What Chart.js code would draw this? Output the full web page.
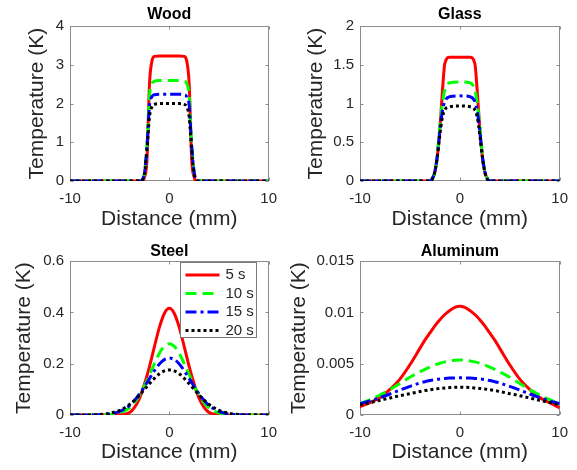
<!DOCTYPE html>
<html>
<head>
<meta charset="utf-8">
<script src="https://cdn.jsdelivr.net/npm/chart.js@4.4.1/dist/chart.umd.min.js"></script>
<style>
  body { margin: 0; background: #fff; }
  #wrap { position: relative; width: 577px; height: 470px; }
  canvas { position: absolute; }
</style>
</head>
<body>
<div id="wrap">
  <canvas id="wood" width="286" height="235" style="left:0;top:0"></canvas>
  <canvas id="glass" width="291" height="235" style="left:286px;top:0"></canvas>
  <canvas id="steel" width="286" height="235" style="left:0;top:235px"></canvas>
  <canvas id="aluminum" width="291" height="235" style="left:286px;top:235px"></canvas>
</div>
<script>
// series (time after heating)
var seriesLabels = ['5 s', '10 s', '15 s', '20 s'];
var seriesColors = ['#ff0000', '#00ff00', '#0000ff', '#000000'];
var seriesDashes = [[], [11, 6], [11, 4, 3, 4], [3, 3]];

// x positions (mm)
var plateauX = [-10, -6, -3, -2.75, -2.5, -2.25, -2, -1.75, -1.5, -1, 0, 1, 1.5, 1.75, 2, 2.25, 2.5, 2.75, 3, 6, 10];
var bellX = [-10, -9, -8, -7, -6, -5, -4, -3.5, -3, -2.5, -2, -1.5, -1, -0.5, 0, 0.5, 1, 1.5, 2, 2.5, 3, 3.5, 4, 5, 6, 7, 8, 9, 10];
var xTicks = [-10, 0, 10];
var xTickLabels = ['-10', '0', '10'];

// Wood (K)
var wood5 = [0, 0, 0, 0, 0.1, 0.55, 2.5, 3.1, 3.22, 3.23, 3.23, 3.23, 3.22, 3.1, 2.5, 0.55, 0.1, 0, 0, 0, 0];
var wood10 = [0, 0, 0, 0.02, 0.2, 0.95, 2.2, 2.52, 2.58, 2.6, 2.6, 2.6, 2.58, 2.52, 2.2, 0.95, 0.2, 0.02, 0, 0, 0];
var wood15 = [0, 0, 0, 0.02, 0.22, 0.9, 1.95, 2.18, 2.23, 2.24, 2.24, 2.24, 2.23, 2.18, 1.95, 0.9, 0.22, 0.02, 0, 0, 0];
var wood20 = [0, 0, 0, 0.02, 0.2, 0.8, 1.65, 1.92, 1.98, 2.0, 2.0, 2.0, 1.98, 1.92, 1.65, 0.8, 0.2, 0.02, 0, 0, 0];
var woodTicks = [0, 1, 2, 3, 4];
var woodTickLabels = ['0', '1', '2', '3', '4'];

// Glass (K)
var glass5 = [0, 0, 0, 0.03, 0.12, 0.32, 0.67, 1.15, 1.52, 1.6, 1.6, 1.6, 1.52, 1.15, 0.67, 0.32, 0.12, 0.03, 0, 0, 0];
var glass10 = [0, 0, 0, 0.03, 0.12, 0.35, 0.72, 1.0, 1.18, 1.27, 1.28, 1.27, 1.18, 1.0, 0.72, 0.35, 0.12, 0.03, 0, 0, 0];
var glass15 = [0, 0, 0, 0.03, 0.12, 0.33, 0.65, 0.9, 1.03, 1.09, 1.1, 1.09, 1.03, 0.9, 0.65, 0.33, 0.12, 0.03, 0, 0, 0];
var glass20 = [0, 0, 0, 0.03, 0.12, 0.32, 0.6, 0.82, 0.92, 0.96, 0.97, 0.96, 0.92, 0.82, 0.6, 0.32, 0.12, 0.03, 0, 0, 0];
var glassTicks = [0, 0.5, 1, 1.5, 2];
var glassTickLabels = ['0', '0.5', '1', '1.5', '2'];

// Steel (K)
var steel5 = [0, 0, 0, 0, 0, 0.001, 0.01, 0.03, 0.065, 0.121, 0.189, 0.267, 0.342, 0.396, 0.416, 0.396, 0.342, 0.267, 0.189, 0.121, 0.065, 0.03, 0.01, 0.001, 0, 0, 0, 0, 0];
var steel10 = [0, 0, 0, 0, 0.002, 0.008, 0.028, 0.048, 0.077, 0.114, 0.157, 0.2, 0.241, 0.268, 0.278, 0.268, 0.241, 0.2, 0.157, 0.114, 0.077, 0.048, 0.028, 0.008, 0.002, 0, 0, 0, 0];
var steel15 = [0, 0, 0, 0.001, 0.004, 0.014, 0.037, 0.057, 0.082, 0.111, 0.142, 0.173, 0.199, 0.216, 0.222, 0.216, 0.199, 0.173, 0.142, 0.111, 0.082, 0.057, 0.037, 0.014, 0.004, 0.001, 0, 0, 0];
var steel20 = [0, 0, 0, 0.002, 0.007, 0.018, 0.041, 0.058, 0.078, 0.1, 0.122, 0.143, 0.161, 0.172, 0.176, 0.172, 0.161, 0.143, 0.122, 0.1, 0.078, 0.058, 0.041, 0.018, 0.007, 0.002, 0, 0, 0];
var steelTicks = [0, 0.2, 0.4, 0.6];
var steelTickLabels = ['0', '0.2', '0.4', '0.6'];

// Aluminum (K)
var alu5 = [0.0008, 0.0012, 0.0017, 0.0025, 0.0035, 0.0049, 0.0065, 0.0073, 0.008, 0.0087, 0.0093, 0.0098, 0.0102, 0.0105, 0.0106, 0.0105, 0.0102, 0.0098, 0.0093, 0.0087, 0.008, 0.0073, 0.0065, 0.0049, 0.0035, 0.0025, 0.0017, 0.0012, 0.0007];
var alu10 = [0.0011, 0.0015, 0.00195, 0.00248, 0.00307, 0.00368, 0.0042, 0.00445, 0.00468, 0.00488, 0.00505, 0.00518, 0.00528, 0.00534, 0.00536, 0.00534, 0.00528, 0.00518, 0.00505, 0.00488, 0.00468, 0.00445, 0.0042, 0.00368, 0.00307, 0.00248, 0.00195, 0.0015, 0.0011];
var alu15 = [0.0011, 0.00138, 0.0017, 0.00205, 0.00243, 0.00279, 0.00312, 0.00325, 0.00336, 0.00345, 0.00352, 0.00357, 0.0036, 0.00362, 0.00363, 0.00362, 0.0036, 0.00357, 0.00352, 0.00345, 0.00336, 0.00325, 0.00312, 0.00279, 0.00243, 0.00205, 0.0017, 0.00138, 0.0011];
var alu20 = [0.001, 0.00121, 0.00143, 0.00166, 0.00188, 0.00208, 0.00229, 0.00238, 0.00246, 0.00253, 0.00259, 0.00264, 0.00268, 0.0027, 0.00271, 0.0027, 0.00268, 0.00264, 0.00259, 0.00253, 0.00246, 0.00238, 0.00229, 0.00208, 0.00188, 0.00166, 0.00143, 0.00121, 0.001];
var aluTicks = [0, 0.005, 0.01, 0.015];
var aluTickLabels = ['0', '0.005', '0.01', '0.015'];

Chart.defaults.font.family = "'Liberation Sans', Arial, sans-serif";
Chart.defaults.color = '#262626';

var axisGray = '#8c8c8c';

// box around the axes with small inward ticks on all four sides
var frame = {
  id: 'frame',
  beforeDatasetsDraw: function(chart) {
    var ctx = chart.ctx, a = chart.chartArea;
    var xs = chart.scales.x, ys = chart.scales.y;
    var l = Math.round(a.left) + 0.5, r = Math.round(a.right) - 0.5;
    var t = Math.round(a.top) + 0.5, b = Math.round(a.bottom) - 0.5;
    ctx.save();
    ctx.strokeStyle = axisGray;
    ctx.lineWidth = 1;
    ctx.strokeRect(l, t, r - l, b - t);
    ctx.beginPath();
    ys.ticks.forEach(function(tk) {
      var py = Math.round(ys.getPixelForValue(tk.value)) + 0.5;
      ctx.moveTo(l, py); ctx.lineTo(l + 3, py);
      ctx.moveTo(r, py); ctx.lineTo(r - 3, py);
    });
    xs.ticks.forEach(function(tk) {
      var px = Math.round(xs.getPixelForValue(tk.value)) + 0.5;
      ctx.moveTo(px, b); ctx.lineTo(px, b - 3);
      ctx.moveTo(px, t); ctx.lineTo(px, t + 3);
    });
    ctx.stroke();
    ctx.restore();
  }
};

// legend box inside the top right corner (steel panel)
var boxLegend = {
  id: 'boxLegend',
  afterDraw: function(chart) {
    var ctx = chart.ctx, a = chart.chartArea;
    var w = 76, h = 75;
    var bx = Math.round(a.right - 13 - w) + 0.5, by = Math.round(a.top + 1) + 0.5;
    ctx.save();
    ctx.fillStyle = '#fff';
    ctx.fillRect(bx, by, w, h);
    ctx.strokeStyle = '#7a7a7a';
    ctx.lineWidth = 1;
    ctx.strokeRect(bx, by, w, h);
    ctx.font = "15px 'Liberation Sans', Arial, sans-serif";
    ctx.textBaseline = 'middle';
    seriesLabels.forEach(function(lbl, i) {
      var ry = by + 12.5 + i * 18.5;
      ctx.beginPath();
      ctx.strokeStyle = seriesColors[i];
      ctx.lineWidth = 3;
      ctx.setLineDash(seriesDashes[i]);
      ctx.lineCap = 'butt';
      ctx.moveTo(bx + 5, ry);
      ctx.lineTo(bx + 39, ry);
      ctx.stroke();
      ctx.setLineDash([]);
      ctx.fillStyle = '#262626';
      ctx.fillText(lbl, bx + 45, ry);
    });
    ctx.restore();
  }
};

function makeChart(id, title, xVals, series, yTicks, yTickLabels, p) {
  var datasets = series.map(function(vals, i) {
    return {
      label: seriesLabels[i],
      data: vals.map(function(v, k) { return { x: xVals[k], y: v }; }),
      borderColor: seriesColors[i],
      borderWidth: 3,
      borderDash: seriesDashes[i],
      borderCapStyle: 'butt',
      pointRadius: 0,
      cubicInterpolationMode: 'monotone',
      fill: false,
      order: series.length - 1 - i   // later series drawn on top, as in the reference
    };
  });
  return new Chart(document.getElementById(id), {
    type: 'line',
    data: { datasets: datasets },
    options: {
      responsive: false,
      animation: false,
      events: [],
      layout: { padding: { left: 0, right: p.padRight, top: 0, bottom: 0 } },
      plugins: {
        legend: { display: false },
        tooltip: { enabled: false },
        title: {
          display: true,
          text: title,
          fullSize: false,
          color: '#000',
          font: { size: 16, weight: 'bold' },
          padding: p.titlePad
        }
      },
      scales: {
        x: {
          type: 'linear',
          min: -10, max: 10,
          afterBuildTicks: function(s) { s.ticks = xTicks.map(function(v) { return { value: v }; }); },
          afterFit: function(s) { s.height = p.xHeight; },
          grid: { display: false, drawTicks: false },
          border: { display: false },
          ticks: {
            autoSkip: false, maxRotation: 0, padding: 9,
            font: { size: 15 },
            callback: function(v, i) { return xTickLabels[i]; }
          },
          title: { display: true, text: 'Distance (mm)', font: { size: 21 }, padding: { top: 0, bottom: p.xTitleBottom } }
        },
        y: {
          type: 'linear',
          min: yTicks[0], max: yTicks[yTicks.length - 1],
          afterBuildTicks: function(s) { s.ticks = yTicks.map(function(v) { return { value: v }; }); },
          afterFit: function(s) { s.width = p.yWidth; },
          grid: { display: false, drawTicks: false },
          border: { display: false },
          ticks: {
            autoSkip: false, padding: 6,
            font: { size: 15 },
            callback: function(v, i) { return yTickLabels[i]; }
          },
          title: { display: true, text: 'Temperature (K)', font: { size: 21 }, padding: { top: p.yTitleTop, bottom: 0 } }
        }
      }
    },
    plugins: p.legend ? [frame, boxLegend] : [frame]
  });
}

makeChart('wood', 'Wood', plateauX, [wood5, wood10, wood15, wood20], woodTicks, woodTickLabels,
  { padRight: 14, yWidth: 70, xHeight: 54, titlePad: { top: 5, bottom: 2 }, xTitleBottom: 3, yTitleTop: 24.5 });
makeChart('glass', 'Glass', plateauX, [glass5, glass10, glass15, glass20], glassTicks, glassTickLabels,
  { padRight: 15, yWidth: 74, xHeight: 54, titlePad: { top: 5, bottom: 2 }, xTitleBottom: 3, yTitleTop: 18 });
makeChart('steel', 'Steel', bellX, [steel5, steel10, steel15, steel20], steelTicks, steelTickLabels,
  { padRight: 14, yWidth: 70, xHeight: 55, titlePad: { top: 7, bottom: 0 }, xTitleBottom: 5, yTitleTop: 12, legend: true });
makeChart('aluminum', 'Aluminum', bellX, [alu5, alu10, alu15, alu20], aluTicks, aluTickLabels,
  { padRight: 15, yWidth: 74, xHeight: 55, titlePad: { top: 7, bottom: 0 }, xTitleBottom: 5, yTitleTop: 1 });
</script>
</body>
</html>
